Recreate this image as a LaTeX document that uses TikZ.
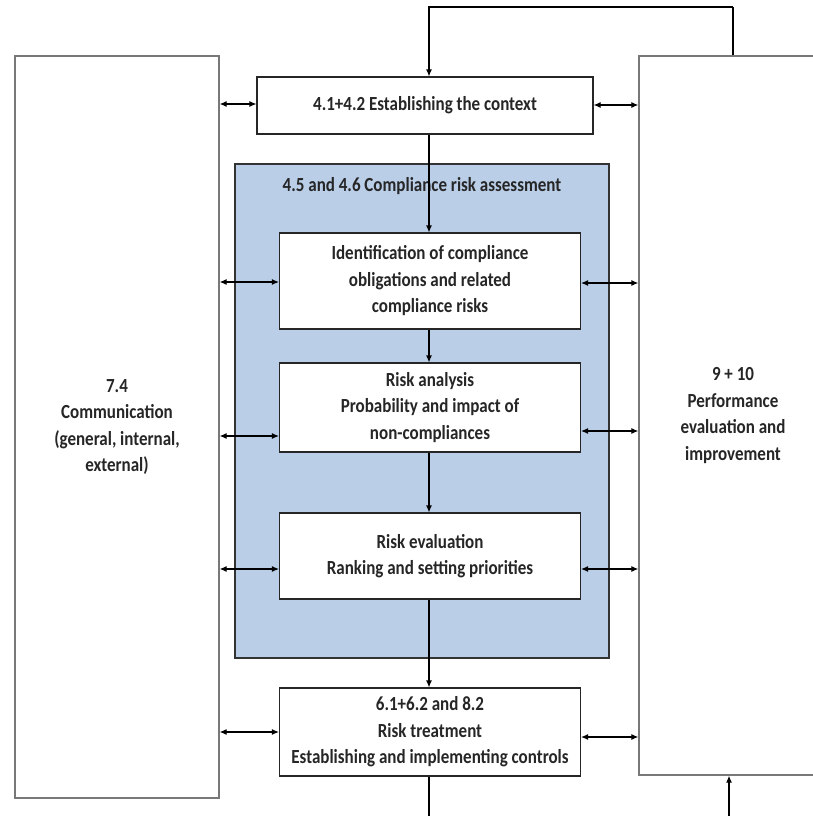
\documentclass[tikz,border=0pt]{standalone}
\usepackage{fontspec}
\setmainfont{Carlito}[FakeStretch=0.85]
\usepackage{tikz}
\usetikzlibrary{positioning}
\usetikzlibrary{arrows.meta}

\definecolor{assessblue}{RGB}{186,206,232}
\definecolor{sidegray}{RGB}{120,120,120}

\tikzset{
	txt/.style = {font=\bfseries\fontsize{20}{26.5}\selectfont, align=center, text=black!85},
	stepbox/.style = {draw=black!85, line width=1.1pt, fill=white, inner sep=0pt, txt},
	sidebox/.style = {draw=sidegray, line width=1.4pt, fill=white, inner sep=0pt, txt},
	flow/.style = {line width=1.1pt, -{Latex[length=7pt,width=6pt]}},
	both/.style = {line width=1.1pt, {Latex[length=7pt,width=6pt]}-{Latex[length=7pt,width=6pt]}},
}

\begin{document}
\begin{tikzpicture}[x=1pt, y=-1pt]
	
	% the page is the picture: 813 x 816
	\clip (0,0) rectangle (813,816);
	
	% side boxes
	\node[sidebox, minimum width=204pt, minimum height=742pt] (Comm) at (117,427)
		{7.4\\Communication\\(general, internal,\\external)};
	\node[sidebox, minimum width=188pt, minimum height=719pt] (Perf) at (733,415.5)
		{9 + 10\\Performance\\evaluation and\\improvement};
	
	% context and the blue assessment frame
	\node[stepbox, minimum width=336pt, minimum height=57pt] (Ctx) at (425,105.5)
		{4.1+4.2 Establishing the context};
	\node[draw=black!80, line width=1.1pt, fill=assessblue,
		minimum width=374pt, minimum height=494pt] (Assess) at (422,411) {};
	\node[txt, below=10pt of Assess.north] (AssessT) {4.5 and 4.6 Compliance risk assessment};
	
	% steps inside the frame
	\node[stepbox, minimum width=301pt, minimum height=96pt] (Ident) at (430,281)
		{Identification of compliance\\obligations and related\\compliance risks};
	\node[stepbox, minimum width=301pt, minimum height=89pt] (Anal) at (430,407.5)
		{Risk analysis\\Probability and impact of\\non-compliances};
	\node[stepbox, minimum width=301pt, minimum height=86pt] (Eval) at (430,556)
		{Risk evaluation\\Ranking and setting priorities};
	\node[stepbox, minimum width=301pt, minimum height=88pt] (Treat) at (430,732)
		{6.1+6.2 and 8.2\\Risk treatment\\Establishing and implementing controls};
	
	% loose ends at the page border
	\coordinate (TopL) at (429,7);
	\coordinate (TopR) at (733,7);
	\coordinate (BotL) at (429,816);
	\coordinate (BotR) at (729,816);
	
	% main flow
	\draw[flow] (TopR) -| (Ctx.north -| TopL);
	\draw[line width=1.1pt] (Perf.north -| TopR) -- (TopR);
	\draw[flow] (Ctx.south -| TopL) -- (Ident.north -| TopL);
	\draw[flow] (Ident.south -| TopL) -- (Anal.north -| TopL);
	\draw[flow] (Anal.south -| TopL) -- (Eval.north -| TopL);
	\draw[flow] (Eval.south -| TopL) -- (Treat.north -| TopL);
	\draw[line width=1.1pt] (Treat.south -| BotL) -- (BotL);
	\draw[flow] (BotR) -- (Perf.south -| BotR);
	
	% links to communication (left)
	\draw[both] (Comm.east |- 0,104) -- (Ctx.west |- 0,104);
	\draw[both] (Comm.east |- 0,282) -- (Ident.west |- 0,282);
	\draw[both] (Comm.east |- 0,436) -- (Anal.west |- 0,436);
	\draw[both] (Comm.east |- 0,569) -- (Eval.west |- 0,569);
	\draw[both] (Comm.east |- 0,732) -- (Treat.west |- 0,732);
	
	% links to performance (right)
	\draw[both] (Ctx.east |- 0,105) -- (Perf.west |- 0,105);
	\draw[both] (Ident.east |- 0,283) -- (Perf.west |- 0,283);
	\draw[both] (Anal.east |- 0,431) -- (Perf.west |- 0,431);
	\draw[both] (Eval.east |- 0,569) -- (Perf.west |- 0,569);
	\draw[both] (Treat.east |- 0,737) -- (Perf.west |- 0,737);
	
\end{tikzpicture}
\end{document}
